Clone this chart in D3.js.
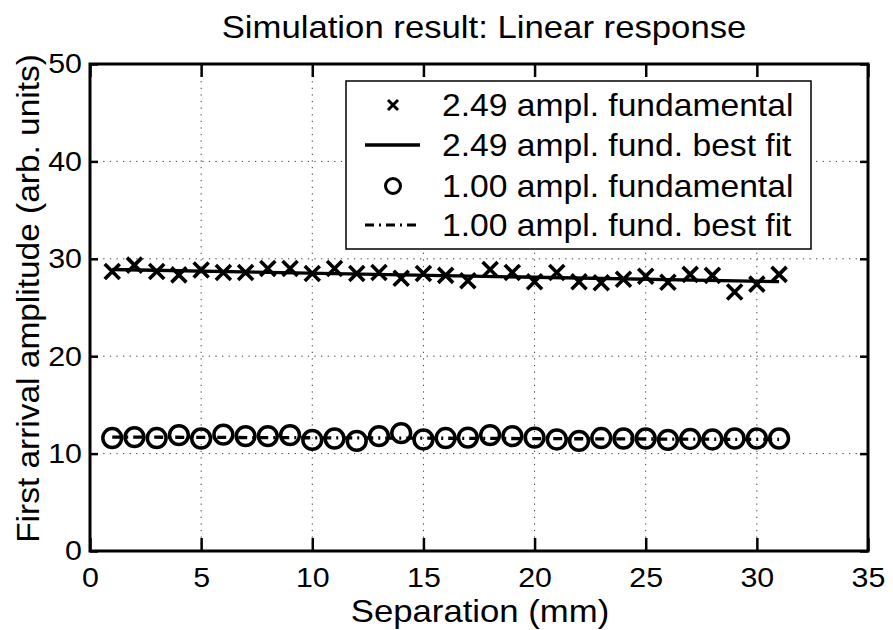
<!DOCTYPE html>
<html>
<head>
<meta charset="utf-8">
<script src="https://cdn.jsdelivr.net/npm/d3@7"></script>
<style>
  html, body { margin: 0; padding: 0; background: #fff; }
  svg text { font-family: "Liberation Sans", Arial, Helvetica, sans-serif; fill: #000; }
</style>
</head>
<body>
<svg id="chart" width="893" height="630"></svg>
<script>
// Separation positions (mm)
const separation = [1,2,3,4,5,6,7,8,9,10,11,12,13,14,15,16,17,18,19,20,21,22,23,24,25,26,27,28,29,30,31];

// First arrival amplitude, 2.49 amplitude source
const amp249 = [28.7,29.35,28.7,28.35,28.85,28.6,28.6,29.0,29.0,28.5,29.0,28.5,28.6,28.0,28.5,28.3,27.75,
                28.9,28.6,27.65,28.6,27.65,27.55,27.9,28.2,27.6,28.4,28.3,26.6,27.4,28.4];

// First arrival amplitude, 1.00 amplitude source
const amp100 = [11.6,11.7,11.6,11.9,11.55,11.95,11.8,11.8,11.9,11.4,11.55,11.3,11.8,12.1,11.45,11.6,11.65,
                11.9,11.8,11.65,11.45,11.3,11.6,11.55,11.55,11.4,11.5,11.45,11.55,11.55,11.55];

// Best-fit lines: [x, y] at the first and last separation
const fit249 = [[1, 28.9], [31, 27.65]];
const fit100 = [[1, 11.7], [31, 11.45]];

const xTicks = [0,5,10,15,20,25,30,35];
const yTicks = [0,10,20,30,40,50];

const legendLabels = ["2.49 ampl. fundamental", "2.49 ampl. fund. best fit",
                      "1.00 ampl. fundamental", "1.00 ampl. fund. best fit"];

const titleText = "Simulation result: Linear response";
const xLabel = "Separation (mm)";
const yLabel = "First arrival amplitude (arb. units)";

const svg = d3.select("#chart");
const L = 90, R = 868, T = 64, B = 551;
const SX = 1.085; // horizontal widening of the lettering

const x = d3.scaleLinear().domain([0, 35]).range([L, R]);
const y = d3.scaleLinear().domain([0, 50]).range([B, T]);

// grid
const grid = svg.append("g").attr("stroke", "#000").attr("stroke-width", 1)
  .attr("stroke-dasharray", "1.3,5.3").attr("opacity", 0.75);
grid.selectAll(".gx").data(xTicks.slice(1, -1)).join("line")
  .attr("x1", d => x(d)).attr("x2", d => x(d)).attr("y1", B).attr("y2", T);
grid.selectAll(".gy").data(yTicks.slice(1, -1)).join("line")
  .attr("y1", d => y(d)).attr("y2", d => y(d)).attr("x1", L).attr("x2", R);

// axes with inward ticks on all four sides
const tickFont = 28;
const axB = svg.append("g").attr("transform", `translate(0,${B})`)
  .call(d3.axisBottom(x).tickValues(xTicks).tickSizeInner(-13).tickSizeOuter(0).tickPadding(16));
const axT = svg.append("g").attr("transform", `translate(0,${T})`)
  .call(d3.axisTop(x).tickValues(xTicks).tickSizeInner(-13).tickSizeOuter(0).tickFormat(""));
const axL = svg.append("g").attr("transform", `translate(${L},0)`)
  .call(d3.axisLeft(y).tickValues(yTicks).tickSizeInner(-8).tickSizeOuter(0).tickPadding(8));
const axR = svg.append("g").attr("transform", `translate(${R},0)`)
  .call(d3.axisRight(y).tickValues(yTicks).tickSizeInner(-8).tickSizeOuter(0).tickFormat(""));
[axB, axT, axL, axR].forEach(a => {
  a.select(".domain").remove();
  a.selectAll(".tick line").attr("stroke", "#000").attr("stroke-width", 2.5);
  a.selectAll(".tick text").attr("font-size", tickFont)
    .attr("font-family", "Liberation Sans, Arial, sans-serif").attr("fill", "#000");
});
axB.selectAll(".tick text").attr("dy", "0.71em").attr("transform", `scale(${SX},1)`);
axL.selectAll(".tick text").attr("x", -8 / SX).attr("transform", `scale(${SX},1)`);

// frame
svg.append("rect").attr("x", L).attr("y", T).attr("width", R - L).attr("height", B - T)
  .attr("fill", "none").attr("stroke", "#000").attr("stroke-width", 3);

// best-fit lines
const line = d3.line().x(d => x(d[0])).y(d => y(d[1]));
svg.append("path").datum(fit249).attr("d", line)
  .attr("fill", "none").attr("stroke", "#000").attr("stroke-width", 3.3);
svg.append("path").datum(fit100).attr("d", line)
  .attr("fill", "none").attr("stroke", "#000").attr("stroke-width", 3.3)
  .attr("stroke-dasharray", "9,5,2,5");

// cross markers
const crossPath = (cx, cy, h) => `M${cx-h},${cy-h}L${cx+h},${cy+h}M${cx-h},${cy+h}L${cx+h},${cy-h}`;
svg.append("g").selectAll("path").data(separation).join("path")
  .attr("d", (d, i) => crossPath(x(d), y(amp249[i]), 7.5))
  .attr("fill", "none").attr("stroke", "#000").attr("stroke-width", 3.6);

// circle markers
svg.append("g").selectAll("circle").data(separation).join("circle")
  .attr("cx", d => x(d)).attr("cy", (d, i) => y(amp100[i])).attr("r", 9.4)
  .attr("fill", "none").attr("stroke", "#000").attr("stroke-width", 3.5);

// stretched text placed at an anchor point
function label(parent, tx, ty, str, size, anchor, rot) {
  return parent.append("text")
    .attr("transform", `translate(${tx},${ty})${rot ? ` rotate(${rot})` : ""} scale(${SX},1)`)
    .attr("text-anchor", anchor).attr("font-size", size).text(str);
}

// legend
const lg = svg.append("g");
lg.append("rect").attr("x", 346).attr("y", 81).attr("width", 465).attr("height", 168)
  .attr("fill", "#fff").attr("stroke", "#000").attr("stroke-width", 1.5);
const rowY = [105, 145, 186, 225];
const sx0 = 365, sx1 = 420, sxm = 393;
lg.append("path").attr("d", crossPath(sxm, rowY[0], 5))
  .attr("stroke", "#000").attr("stroke-width", 3).attr("fill", "none");
lg.append("line").attr("x1", sx0).attr("x2", sx1).attr("y1", rowY[1]).attr("y2", rowY[1])
  .attr("stroke", "#000").attr("stroke-width", 3.3);
lg.append("circle").attr("cx", sxm).attr("cy", rowY[2]).attr("r", 7.5)
  .attr("stroke", "#000").attr("stroke-width", 3).attr("fill", "none");
lg.append("line").attr("x1", sx0).attr("x2", sx1).attr("y1", rowY[3]).attr("y2", rowY[3])
  .attr("stroke", "#000").attr("stroke-width", 3).attr("stroke-dasharray", "9,5,2,5");
legendLabels.forEach((t, i) => {
  label(lg, 442, rowY[i] + 11, t, 31, "start");
});

// title and axis labels
label(svg, 484, 38, titleText, 32, "middle");
label(svg, 480, 622, xLabel, 32, "middle");
svg.append("text").attr("transform", `translate(39,${(T + B) / 2 - 9}) rotate(-90) scale(1.045,1)`)
  .attr("text-anchor", "middle").attr("font-size", 32).text(yLabel);
</script>
</body>
</html>
